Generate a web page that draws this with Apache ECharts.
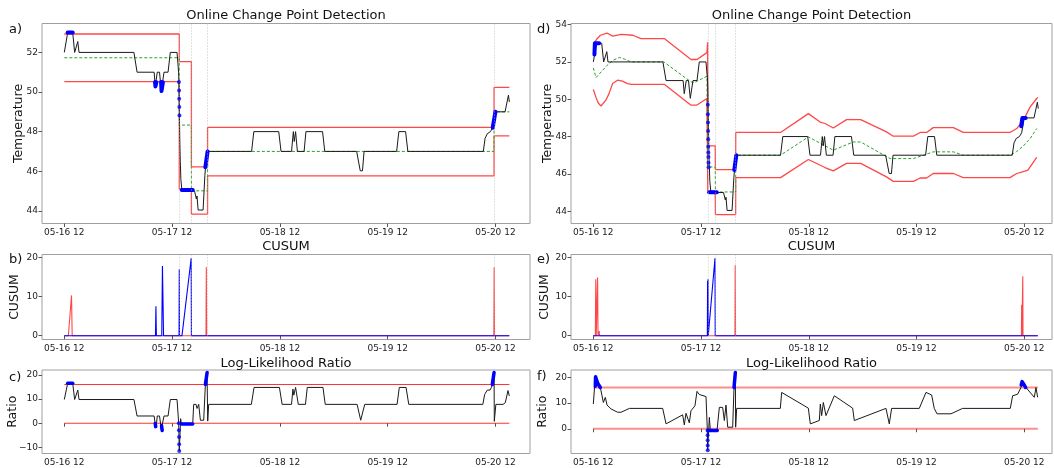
<!DOCTYPE html>
<html><head><meta charset="utf-8">
<script src="https://cdn.jsdelivr.net/npm/echarts@6/dist/echarts.min.js"></script>
<style>html,body{margin:0;padding:0;background:#fff}#c{width:1054px;height:468px}</style>
</head><body><div id="c"></div>
<script>
// ---------- DATA (time in hours since 05-16 00:00) ----------
const xTickHours = [12, 36, 60, 84, 108];
const xTickLabels = ['05-16 12', '05-17 12', '05-18 12', '05-19 12', '05-20 12'];

// temperature (black line, panels a and d)
const temperature = [[12,52],[12.75,53],[13.87,53],[14.3,52],[15.0,52.55],[15.27,52],[27.5,52],[28.2,51],[32.0,51],[32.25,50.3],[32.45,50.3],[32.7,51],[33.2,51],[33.6,50.05],[33.85,50.05],[34.2,51],[35.1,51],[35.6,52],[37.1,52],[37.45,51.0],[37.52,50.5],[37.55,50.08],[37.58,49.66],[37.61,49.24],[37.64,48.82],[37.67,48.3],[37.7,47.8],[37.73,47.4],[37.76,47.1],[37.79,46.8],[37.82,46.5],[37.86,46.3],[37.95,45.6],[38.2,45],[41.0,45],[41.4,44.6],[41.55,44.75],[41.8,44.04],[42.9,44.04],[43.3,45.8],[43.45,46.2],[43.9,47],[53.7,47],[54.2,48],[59.75,48],[60.26,47],[62.6,47],[63.0,48],[63.2,47.5],[63.5,48],[63.9,47],[65.4,47],[65.8,48],[69.5,48],[70.0,47],[77.1,47],[77.9,46.02],[78.4,46.02],[78.75,47],[86.0,47],[86.5,48],[88.0,48],[88.5,47],[105.3,47],[105.7,47.66],[105.9,47.6],[106.2,47.9],[106.6,47.8],[106.9,48.0],[107.2,48.07],[107.4,48.2],[108.0,49],[110.15,49],[110.9,49.84],[111.1,49.5]];

// panel a: step bands and mean
const upperA = [[12,52.93],[37.6,52.93],[37.6,51.53],[40.3,51.53],[40.3,46.22],[43.9,46.22],[43.9,48.21],[107.7,48.21],[107.7,50.23],[111.1,50.23]];
const lowerA = [[12,50.52],[37.6,50.52],[37.6,45.1],[40.3,45.1],[40.3,43.83],[43.9,43.83],[43.9,45.77],[107.7,45.77],[107.7,47.79],[111.1,47.79]];
const meanA = [[12,51.73],[37.6,51.73],[37.6,48.33],[40.3,48.33],[40.3,45.01],[43.9,45.01],[43.9,47],[107.7,47],[107.7,49],[111.1,49]];
const changeA = [37.6, 40.3, 43.9, 107.7];
const blueSegA = [
  [[12.75,53],[13.87,53]],
  [[32.2,50.5],[32.3,50.28],[32.45,50.28],[32.5,50.5]],
  [[33.55,50.5],[33.65,50.05],[33.85,50.05],[33.95,50.5]],
  [[38.15,45.05],[40.6,45.05]],
  [[43.4,46.2],[43.9,47]],
  [[107.4,48.2],[108.0,49]]
];
const blueDotA = [[37.52,50.5],[37.55,50.08],[37.58,49.66],[37.61,49.24],[37.64,48.82]];

// panel b: CUSUM
const cusumPosB = [[12,0],[12.9,0],[13.6,10.3],[13.75,0],[43.55,0],[43.62,17.5],[43.7,0],[107.65,0],[107.72,17.5],[107.8,0],[111.1,0]];
const cusumNegB = [[12,0],[32.3,0],[32.4,7.5],[32.5,0],[33.7,0],[33.85,17.8],[34.1,0],[37.55,0],[37.6,17],[37.65,0],[38.2,0],[40.25,19.8],[40.3,0],[111.1,0]];

// panel c: log-likelihood ratio
const ratioC = [[12,9.8],[12.75,16.5],[13.87,16.5],[14.3,9.8],[15.0,13.7],[15.27,9.8],[27.5,9.8],[28.2,3.0],[32.0,3.0],[32.25,-0.5],[32.45,-1.4],[32.7,3.0],[33.2,3.0],[33.6,-2.5],[33.85,-3.0],[34.2,3.0],[35.1,3.0],[35.6,9.8],[37.1,9.8],[37.47,0],[37.6,-11.5],[37.9,1.9],[38.07,-0.4],[40.59,-0.4],[40.81,7.8],[41.33,7.8],[41.56,6.1],[41.93,7.8],[42.3,1.25],[43.04,1.25],[43.41,16],[43.78,21],[43.93,0.9],[44.15,7.8],[53.65,7.8],[54.25,14.8],[59.9,14.8],[60.5,7.8],[62.6,7.8],[62.9,14.1],[63.1,11.6],[63.5,14.8],[64.1,7.8],[65.7,7.8],[66.1,14.8],[69.6,14.8],[70.1,7.8],[77.2,7.8],[78.0,1.25],[78.3,1.25],[78.9,7.8],[86.1,7.8],[86.6,14.8],[88.1,14.8],[88.7,7.8],[105.2,7.8],[105.6,11.9],[105.9,12.5],[106.2,13.7],[106.8,13.7],[107.1,14.8],[107.3,16],[107.7,21],[107.75,0.8],[108.1,7.8],[109.7,7.8],[110.2,8.5],[110.8,13.5],[111.1,11.3]];
const thresholdC = [16, 0];
const blueSegC = [
  [[12.75,16.5],[13.87,16.5]],
  [[32.25,-0.1],[32.35,-1.4],[32.45,-1.4]],
  [[33.65,-1.0],[33.8,-3.0],[33.9,-3.0]],
  [[38.1,-0.3],[40.6,-0.3]],
  [[43.41,16],[43.8,21]],
  [[107.3,16],[107.7,21]]
];
const blueDotC = [[37.5,0],[37.52,-2.9],[37.55,-5.7],[37.57,-8.7],[37.6,-11.5]];

// panel d: adaptive bands and mean
const upperD = [[12,52.95],[12.38,52.95],[12.7,53.2],[13.57,53.43],[15.05,53.55],[16.3,53.38],[18.2,53.48],[20.8,53.43],[22.6,53.25],[27.8,53.25],[33.76,52.13],[35.1,52.13],[37.3,52.5],[37.47,53.05],[37.5,47.5],[39.15,47.5],[39.2,46.23],[43.7,46.23],[43.72,48.22],[53.7,48.22],[59.9,49.23],[62.5,48.78],[63.6,48.7],[65.45,48.46],[68.4,48.91],[71.55,48.91],[77.3,48.25],[78.8,48.02],[83.3,48.02],[84.8,48.22],[86.25,48.22],[87.7,48.48],[92.2,48.48],[94.4,48.22],[104.8,48.22],[106.3,48.43],[107.8,48.88],[109.3,49.59],[110.75,50.04],[111.0,50.1]];
const lowerD = [[12,50.52],[12.38,50.52],[12.6,50.1],[13.1,49.8],[13.7,49.64],[14.8,49.95],[15.5,50.3],[16.3,50.84],[17.4,51.02],[18.5,50.97],[19.6,50.84],[20.5,50.8],[27.8,50.8],[33.76,49.68],[35.0,49.68],[37.3,50.04],[37.5,45.07],[39.15,45.07],[39.2,43.82],[43.7,43.82],[43.72,45.8],[53.7,45.8],[59.9,46.77],[63.6,46.34],[65.45,46.16],[68.4,46.56],[71.55,46.56],[77.3,45.84],[78.8,45.6],[83.3,45.6],[84.8,45.78],[86.25,45.78],[87.7,46.02],[92.2,46.02],[94.4,45.8],[104.8,45.8],[106.3,46.02],[107.4,46.1],[108.8,46.2],[110.75,46.88]];
const meanD = [[12,51.68],[12.6,51.16],[13.5,51.4],[15.0,51.8],[16.5,52.1],[17.8,52.24],[19.0,52.15],[20.4,52.0],[27.7,52.0],[33.76,50.93],[34.5,50.9],[37.3,51.23],[37.5,46.37],[39.15,46.37],[39.2,45.03],[43.7,45.03],[43.72,47.0],[53.7,47.0],[59.9,47.98],[65.45,47.27],[69.9,47.71],[71.55,47.71],[78.1,46.82],[83.3,46.82],[87.7,47.18],[92.2,47.18],[94.4,47.0],[104.8,47.0],[106.3,47.2],[107.8,47.5],[109.3,47.9],[110.75,48.43]];
const changeD = [37.6, 39.15, 43.7];
const blueSegD = [
  [[12.25,52.4],[12.35,53],[13.3,53]],
  [[37.8,45.02],[39.5,45.02]],
  [[43.4,46.2],[43.85,47]],
  [[107.3,48.55],[107.55,49.0],[108.3,49.0]]
];
const blueDotD = [[37.5,49.7],[37.52,49.2],[37.54,48.75],[37.56,48.3],[37.58,47.85],[37.6,47.45],[37.62,47.15],[37.64,46.9],[37.66,46.6],[37.68,46.35]];

// panel e: CUSUM
const cusumPosE = [[12,0],[12.45,0],[12.55,14.4],[12.65,0],[12.85,0],[12.95,14.9],[13.05,0],[13.25,0],[13.3,1.2],[13.4,0],[43.55,0],[43.6,18],[43.68,0],[107.35,0],[107.4,7.9],[107.45,0],[107.6,0],[107.65,15.2],[107.7,0],[107.85,0],[107.9,0.5],[107.95,0],[111.0,0]];
const cusumNegE = [[12,0],[37.4,0],[37.45,14],[37.5,0],[37.55,14.4],[37.6,0],[38.0,0],[39.1,19.8],[39.15,0],[111.0,0]];

// panel f: log-likelihood ratio
const ratioF = [[12,9.6],[12.45,20.2],[12.97,17.9],[13.57,16.0],[14.24,10.2],[14.68,12.2],[15.05,9.2],[15.94,7.7],[17.42,6.4],[18.17,6.4],[20.03,7.9],[27.45,7.9],[28.2,1.9],[31.9,5.4],[32.27,1.5],[32.64,6.0],[33.01,6.4],[33.38,2.3],[33.75,7.0],[34.12,7.4],[34.64,8.9],[35.09,14.5],[35.6,13.3],[37.1,12.5],[37.4,-0.65],[37.47,-8.3],[37.84,4.4],[38.07,-0.65],[39.55,-0.65],[40.07,8.3],[40.81,8.3],[41.18,3.2],[41.55,9.2],[41.93,0.6],[43.04,0.6],[43.34,16.0],[43.63,21.8],[43.7,0.6],[43.93,7.9],[53.65,7.9],[53.95,14.1],[59.89,8.0],[60.33,1.9],[62.34,3.2],[62.56,9.6],[62.86,5.1],[63.23,10.2],[63.82,5.1],[65.68,12.8],[69.76,8.0],[70.13,3.2],[77.18,7.9],[77.92,1.9],[78.44,7.9],[84.6,7.9],[86.09,14.1],[87.35,13.1],[87.94,7.9],[88.54,5.8],[91.66,5.8],[94.25,7.9],[104.87,7.9],[105.39,12.8],[106.5,13.4],[107.25,16.0],[107.62,18.6],[108.36,16.0],[110.22,12.2],[110.59,16.0],[110.96,12.2]];
const thresholdF = [16, 0];
const blueSegF = [
  [[12.45,16.5],[12.5,20.2],[12.65,19.5],[12.9,18],[13.2,17],[13.57,16]],
  [[37.6,-0.65],[39.6,-0.65]],
  [[43.34,16],[43.63,21.8]],
  [[107.3,17],[107.5,18.3],[107.8,17.5],[108.3,16]]
];
const blueDotF = [[37.45,-0.65],[37.46,-2.5],[37.47,-4.5],[37.48,-6.5],[37.49,-8.3]];

// ---------- CHART ----------
const FONT = '"DejaVu Sans", sans-serif';
const grids = [
  {left:42, top:23.5, width:488, height:200},
  {left:42, top:254.5, width:488, height:85},
  {left:42, top:370, width:488, height:83.5},
  {left:571, top:23.5, width:481, height:200},
  {left:571, top:254.5, width:481, height:85},
  {left:571, top:370, width:481, height:83.5}
].map(g => Object.assign(g, {show:true, borderColor:'#a0a0a0', borderWidth:1, backgroundColor:'rgba(0,0,0,0)', containLabel:false, outerBoundsMode:'none'}));

const xMax = [115.7, 115.7, 115.7, 114.16, 114.16, 114.16];
const yCfg = [
  {min:43.36, max:53.46, ticks:[44,46,48,50,52], name:'Temperature', gap:17},
  {min:-0.97, max:20.75, ticks:[0,10,20], name:'CUSUM', gap:21},
  {min:-12.5, max:22.0, ticks:[-10,0,10,20], name:'Ratio', gap:23},
  {min:43.34, max:54.06, ticks:[44,46,48,50,52,54], name:'Temperature', gap:17},
  {min:-0.97, max:20.75, ticks:[0,10,20], name:'CUSUM', gap:20},
  {min:-9.6, max:22.8, ticks:[0,10,20], name:'Ratio', gap:22}
];

const xAxes = grids.map((g, i) => ({
  type:'value', gridIndex:i, min:7.03, max:xMax[i],
  axisLine:{show:false}, splitLine:{show:false},
  axisTick:{show:true, length:3.5, lineStyle:{color:'#555'}, customValues:xTickHours},
  axisLabel:{customValues:xTickHours, formatter:v => { const k = xTickHours.indexOf(v); return k >= 0 ? xTickLabels[k] : ''; },
    fontSize:9, fontFamily:FONT, color:'#222', margin:5}
}));
const yAxes = yCfg.map((c, i) => ({
  type:'value', gridIndex:i, min:c.min, max:c.max,
  name:c.name, nameLocation:'middle', nameGap:c.gap, nameMoveOverlap:false,
  nameTextStyle:{fontSize:12.5, fontFamily:FONT, color:'#111'},
  axisLine:{show:false}, splitLine:{show:false},
  axisTick:{show:true, length:3.5, lineStyle:{color:'#555'}, customValues:c.ticks},
  axisLabel:{customValues:c.ticks, formatter:v => (v < 0 ? '\u2212' + Math.abs(v) : String(v)),
    fontSize:9, fontFamily:FONT, color:'#222', margin:4}
}));

const series = [];
function line(i, data, color, width, extra) {
  series.push(Object.assign({
    type:'line', xAxisIndex:i, yAxisIndex:i, data:data, showSymbol:false, symbol:'none',
    animation:false, silent:true, clip:true,
    lineStyle:{color:color, width:width}
  }, extra || {}));
}
function dots(i, data, size) {
  series.push({type:'scatter', xAxisIndex:i, yAxisIndex:i, data:data, symbol:'circle', symbolSize:size,
    itemStyle:{color:'#0000ff'}, animation:false, silent:true, z:5});
}
function vlines(i, xs) {
  series.push({type:'line', xAxisIndex:i, yAxisIndex:i, data:[], animation:false, silent:true, z:1,
    markLine:{silent:true, symbol:'none', label:{show:false}, animation:false,
      lineStyle:{type:[1,2], color:'#b4b4b4', width:0.8}, data:xs.map(v => ({xAxis:v}))}});
}
const RED = 'rgba(255,0,0,0.72)';
const BLACK = '#1a1a1a';
const GREEN = '#2ca02c';
const BLUE = '#0000ff';
const thickBlue = (i, segs, w) => segs.forEach(s => line(i, s, BLUE, w, {z:4, lineStyle:{color:BLUE, width:w, cap:'round', join:'round'}}));

// a
vlines(0, changeA);
line(0, upperA, RED, 1.3);
line(0, lowerA, RED, 1.3);
line(0, meanA, GREEN, 1, {lineStyle:{color:GREEN, width:1, type:[3,2]}});
line(0, temperature, BLACK, 1);
thickBlue(0, blueSegA, 4);
dots(0, blueDotA, 4);
// b
vlines(1, changeA);
line(1, cusumPosB, RED, 1.1);
line(1, cusumNegB, BLUE, 1.1);
// c
thresholdC.forEach(t => line(2, [[12, t], [111.1, t]], 'rgba(255,0,0,0.8)', 1.2));
line(2, ratioC, BLACK, 1);
thickBlue(2, blueSegC, 3.5);
dots(2, blueDotC, 4);
// d
vlines(3, changeD);
line(3, upperD, RED, 1.3);
line(3, lowerD, RED, 1.3);
line(3, meanD, GREEN, 1, {lineStyle:{color:GREEN, width:1, type:[3,2]}});
line(3, temperature, BLACK, 1);
thickBlue(3, blueSegD, 4);
dots(3, blueDotD, 4);
// e
vlines(4, changeD);
line(4, cusumPosE, RED, 1.1);
line(4, cusumNegE, BLUE, 1.1);
// f
thresholdF.forEach(t => line(5, [[12, t], [111.0, t]], 'rgba(255,0,0,0.45)', 2));
line(5, ratioF, BLACK, 1);
thickBlue(5, blueSegF, 3.5);
dots(5, blueDotF, 4);

// titles and panel letters
const texts = [
  ['Online Change Point Detection', 286, 16, 13, 'center'],
  ['CUSUM', 286, 247, 13, 'center'],
  ['Log-Likelihood Ratio', 286, 364, 13, 'center'],
  ['Online Change Point Detection', 811.5, 16, 13, 'center'],
  ['CUSUM', 811.5, 247, 13, 'center'],
  ['Log-Likelihood Ratio', 811.5, 364, 13, 'center'],
  ['a)', 9, 30, 13, 'left'], ['b)', 9, 260, 13, 'left'], ['c)', 9, 378, 13, 'left'],
  ['d)', 537, 30, 13, 'left'], ['e)', 537, 260, 13, 'left'], ['f)', 537, 377, 13, 'left']
];
const graphic = texts.map(t => ({type:'text', x:t[1], y:t[2], silent:true,
  style:{text:t[0], font:t[3] + 'px ' + FONT, fill:'#111', align:t[4], verticalAlign:'middle'}}));

const chart = echarts.init(document.getElementById('c'), null, {renderer:'canvas'});
chart.setOption({backgroundColor:'#fff', animation:false, grid:grids, xAxis:xAxes, yAxis:yAxes, series:series, graphic:graphic});
</script></body></html>
